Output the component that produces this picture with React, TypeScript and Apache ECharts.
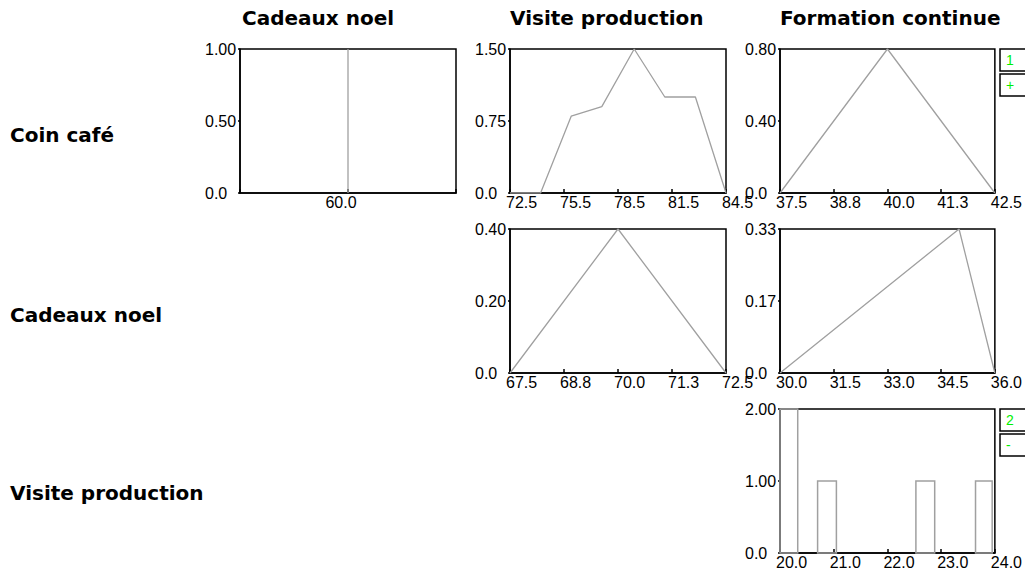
import React, { useEffect, useRef } from "react";
import * as echarts from "echarts";

const colTitles = ["Cadeaux noel", "Visite production", "Formation continue"];
const rowTitles = ["Coin café", "Cadeaux noel", "Visite production"];

// Coin café x Cadeaux noel
const p1X = [60, 60];
const p1Y = [0, 1];
// Coin café x Visite production
const p2X = [72.5, 74.2, 75.9, 77.6, 79.4, 81.1, 82.8, 84.5];
const p2Y = [0, 0, 0.8, 0.9, 1.5, 1.0, 1.0, 0];
// Coin café x Formation continue
const p3X = [37.5, 40, 42.5];
const p3Y = [0, 0.8, 0];
// Cadeaux noel x Visite production
const p4X = [67.5, 70, 72.5];
const p4Y = [0, 0.4, 0];
// Cadeaux noel x Formation continue
const p5X = [30, 35, 36];
const p5Y = [0, 0.33, 0];
// Visite production x Formation continue (bars)
const p6Start = [20, 20.7, 22.53, 23.64];
const p6End = [20.33, 21.05, 22.88, 23.95];
const p6Height = [2, 1, 1, 1];

// axis ranges: [xMin, xMax, xInterval, yMax, yInterval]
const axisRanges = [
  [59, 61, 1, 1, 0.5],
  [72.5, 84.5, 3, 1.5, 0.75],
  [37.5, 42.5, 1.25, 0.8, 0.4],
  [67.5, 72.5, 1.25, 0.4, 0.2],
  [30, 36, 1.5, 0.33, 0.165],
  [20, 24, 1, 2, 1],
];

const legendTexts = [["1", "+"], ["2", "-"]];

const TICK_FONT = "Liberation Sans";
const BOLD_FONT = "DejaVu Sans";
const LINE_COLOR = "#a0a0a0";

export default function App() {
  const ref = useRef<HTMLDivElement>(null);

  useEffect(() => {
    if (!ref.current) return;
    const chart = echarts.init(ref.current, null, { renderer: "svg" });

    const gridPos = [
      { left: 240, top: 49, width: 216, height: 144 },
      { left: 510, top: 49, width: 216, height: 144 },
      { left: 780, top: 49, width: 215, height: 144 },
      { left: 510, top: 229, width: 216, height: 144 },
      { left: 780, top: 229, width: 215, height: 144 },
      { left: 780, top: 409, width: 215, height: 144 },
    ];

    const grid = gridPos.map((g) => ({
      ...g,
      show: true,
      borderColor: "#000",
      borderWidth: 1.5,
      backgroundColor: "#fff",
      containLabel: false,
    }));

    const xAxis = axisRanges.map((r, i) => ({
      type: "value",
      gridIndex: i,
      min: r[0],
      max: r[1],
      interval: r[2],
      splitLine: { show: false },
      axisLine: { show: true, onZero: false, lineStyle: { color: "#000", width: 1.5 } },
      axisTick: { show: true, inside: true, length: 4, lineStyle: { color: "#000", width: 1.5 } },
      axisLabel: {
        show: true,
        showMinLabel: true,
        showMaxLabel: true,
        margin: 1,
        color: "#000",
        fontFamily: TICK_FONT,
        fontSize: 16,
        align: i === 0 ? "center" : "left",
        padding: i === 0 ? [0, 14, 0, 0] : [0, 0, 0, -4],
        formatter: (v: number) => (i === 0 ? (v === 60 ? "60.0" : "") : v.toFixed(1)),
      },
    }));

    const yAxis = axisRanges.map((r, i) => ({
      type: "value",
      gridIndex: i,
      min: 0,
      max: r[3],
      interval: r[4],
      splitLine: { show: false },
      axisLine: { show: true, lineStyle: { color: "#000", width: 1.5 } },
      axisTick: { show: true, inside: false, length: 2, lineStyle: { color: "#000", width: 1.5 } },
      axisLabel: {
        show: true,
        showMinLabel: true,
        showMaxLabel: true,
        margin: 35,
        align: "left",
        color: "#000",
        fontFamily: TICK_FONT,
        fontSize: 16,
        formatter: (v: number) => (v === 0 ? "0.0" : v.toFixed(2)),
      },
    }));

    const lineData = [
      [p1X, p1Y],
      [p2X, p2Y],
      [p3X, p3Y],
      [p4X, p4Y],
      [p5X, p5Y],
    ];

    const series: any[] = lineData.map((d, i) => ({
      type: "line",
      xAxisIndex: i,
      yAxisIndex: i,
      data: d[0].map((x, k) => [x, d[1][k]]),
      symbol: "none",
      lineStyle: { color: LINE_COLOR, width: 1.3 },
      z: 1,
    }));

    series.push({
      type: "custom",
      xAxisIndex: 5,
      yAxisIndex: 5,
      z: 1,
      data: p6Start.map((s, k) => [s, p6End[k], p6Height[k]]),
      renderItem: (params: any, api: any) => {
        const tl = api.coord([api.value(0), api.value(2)]);
        const br = api.coord([api.value(1), 0]);
        return {
          type: "rect",
          shape: { x: tl[0], y: tl[1], width: br[0] - tl[0], height: br[1] - tl[1] },
          style: { fill: "none", stroke: LINE_COLOR, lineWidth: 1.5 },
        };
      },
    });

    const graphics: any[] = [];
    const titleX = [242, 510, 780];
    colTitles.forEach((t, i) => {
      graphics.push({
        type: "text",
        x: titleX[i],
        y: 18,
        style: {
          text: t,
          fill: "#000",
          font: `bold 20px "${BOLD_FONT}"`,
          textVerticalAlign: "middle",
        },
      });
    });
    const rowY = [135, 315, 493];
    rowTitles.forEach((t, i) => {
      graphics.push({
        type: "text",
        x: 10,
        y: rowY[i],
        style: {
          text: t,
          fill: "#000",
          font: `bold 20px "${BOLD_FONT}"`,
          textVerticalAlign: "middle",
        },
      });
    });

    const legendTops = [[49, 74], [409, 434]];
    legendTexts.forEach((pair, li) => {
      pair.forEach((txt, k) => {
        const top = legendTops[li][k];
        graphics.push({
          type: "rect",
          shape: { x: 1000, y: top, width: 40, height: 22 },
          style: { fill: "#fff", stroke: "#000", lineWidth: 1.5 },
        });
        graphics.push({
          type: "text",
          x: 1006,
          y: top + 11,
          style: {
            text: txt,
            fill: "#00f000",
            font: `14px "${TICK_FONT}"`,
            textVerticalAlign: "middle",
          },
        });
      });
    });

    chart.setOption({
      animation: false,
      backgroundColor: "#fff",
      grid,
      xAxis,
      yAxis,
      series,
      graphic: graphics,
    });

    return () => chart.dispose();
  }, []);

  return (
    <div
      ref={ref}
      style={{ position: "fixed", left: 0, top: 0, width: 1025, height: 571 }}
    />
  );
}
